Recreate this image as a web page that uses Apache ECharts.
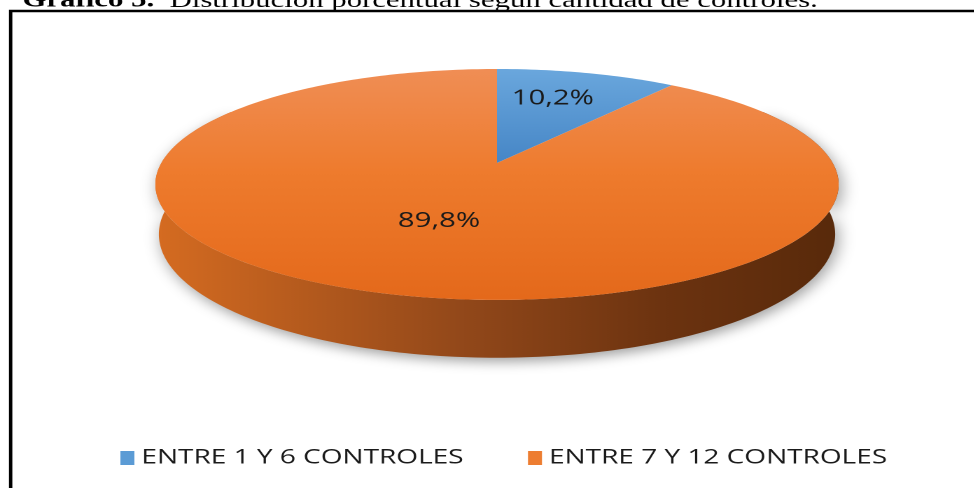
<!DOCTYPE html>
<html>
<head>
<meta charset="utf-8">
<script src="https://cdn.jsdelivr.net/npm/echarts@6/dist/echarts.min.js"></script>
<style>
    html, body { margin: 0; padding: 0; background: #fff; overflow: hidden; }
    /* the original picture is stretched sideways, so the chart is drawn narrow and scaled */
    #chart { width: 696px; height: 488px; transform: scaleX(1.4); transform-origin: 0 0; }
</style>
</head>
<body>
<div id="chart"></div>
<script>
var categories = ['ENTRE 1 Y 6 CONTROLES', 'ENTRE 7 Y 12 CONTROLES'];
var values = [10.2, 89.8];
var colors = ['#5b9bd5', '#ed7d31'];

var chart = echarts.init(document.getElementById('chart'), null, {devicePixelRatio: 2});

// 3d pie projection (tilted disc seen in perspective)
var PIE = {cx: 355, cy: 163, fx: 1218, fy: 1722, tilt: 19.2 * Math.PI / 180, dist: 5.08, depth: 0.153};
var S = Math.sin(PIE.tilt), C = Math.cos(PIE.tilt);

function proj(X, Z, drop) {
    var yv = Z * S - drop * C;
    var dep = PIE.dist + Z * C + drop * S;
    return [PIE.cx + PIE.fx * X / dep, PIE.cy - PIE.fy * yv / dep];
}
function arc(a0, a1, r, drop) {
    var pts = [];
    var n = Math.max(2, Math.ceil(Math.abs(a1 - a0)));
    for (var k = 0; k <= n; k++) {
        var a = (a0 + (a1 - a0) * k / n) * Math.PI / 180;
        pts.push(proj(r * Math.sin(a), r * Math.cos(a), drop));
    }
    return pts;
}

var total = values.reduce(function (a, b) { return a + b; }, 0);

var topFills = [
    [{offset: 0, color: '#6aa7dd'}, {offset: 1, color: '#4686c6'}],
    [{offset: 0, color: '#f08e55'}, {offset: 0.45, color: '#ee7b2d'}, {offset: 1, color: '#e4691b'}]
];
var wallFill = [
    {offset: 0, color: '#d46b21'}, {offset: 0.45, color: '#92481a'},
    {offset: 0.75, color: '#6c3310'}, {offset: 1, color: '#592a0b'}
];

function makeRenderItem(i, labelR, labelDx) {
    return function (params, api) {
        var start = values.slice(0, i).reduce(function (a, b) { return a + b; }, 0) / total * 360;
        var sweep = api.value(0) / total * 360;
        var a0 = start, a1 = start + sweep;
        var children = [];

        // front wall, only the part facing the viewer
        var w0 = Math.max(a0, 60), w1 = Math.min(a1, 300);
        if (w1 > w0) {
            var wall = arc(w0, w1, 1, 0).concat(arc(w1, w0, 1, PIE.depth));
            children.push({
                type: 'polygon', z2: 1,
                shape: {points: wall},
                style: {
                    fill: new echarts.graphic.LinearGradient(PIE.cx - 240, 0, PIE.cx + 240, 0, wallFill, true),
                    shadowBlur: 12, shadowOffsetX: 2, shadowOffsetY: 4, shadowColor: 'rgba(0,0,0,0.38)'
                }
            });
        }

        var top = [proj(0, 0, 0)].concat(arc(a0, a1, 1, 0));
        children.push({
            type: 'polygon', z2: 5,
            shape: {points: top},
            style: {fill: new echarts.graphic.LinearGradient(0, 69, 0, i === 0 ? 163 : 300, topFills[i], true)}
        });

        var mid = (a0 + a1) / 2 * Math.PI / 180;
        var p = proj(labelR * Math.sin(mid), labelR * Math.cos(mid), 0);
        children.push({
            type: 'text', z2: 10, x: p[0] + labelDx, y: p[1],
            style: {
                text: api.value(0).toFixed(1).replace('.', ',') + '%',
                font: '21px "Open Sans"', fill: '#1a1a1a',
                align: 'center', verticalAlign: 'middle'
            }
        });
        return {type: 'group', children: children};
    };
}

var series = categories.map(function (name, i) {
    return {
        name: name,
        type: 'custom',
        coordinateSystem: 'none',
        silent: true,
        itemStyle: {color: colors[i]},
        renderItem: makeRenderItem(i, i === 0 ? 0.68 : 0.5, i === 0 ? -6 : 0),
        data: [[values[i]]]
    };
});

var option = {
    animation: false,
    title: {
        text: '{b|Gráfico 5.}  Distribución porcentual según cantidad de controles.',
        left: 16,
        top: -10,
        padding: 0,
        textStyle: {
            fontFamily: 'Liberation Serif', fontSize: 22, fontWeight: 'normal', color: '#000',
            rich: {b: {fontFamily: 'Liberation Serif', fontSize: 22, fontWeight: 'bold', color: '#000'}}
        }
    },
    graphic: [{
        type: 'rect',
        shape: {x: 7.6, y: 11, width: 1000, height: 1000},
        style: {fill: null, stroke: '#000', lineWidth: 2.4}
    }],
    legend: {
        data: categories,
        left: 86,
        top: 448,
        padding: 0,
        icon: 'rect',
        itemWidth: 10,
        itemHeight: 14,
        itemGap: 46,
        selectedMode: false,
        textStyle: {fontFamily: 'Open Sans', fontSize: 20, color: '#1a1a1a'}
    },
    series: series
};
chart.setOption(option);
</script>
</body>
</html>
